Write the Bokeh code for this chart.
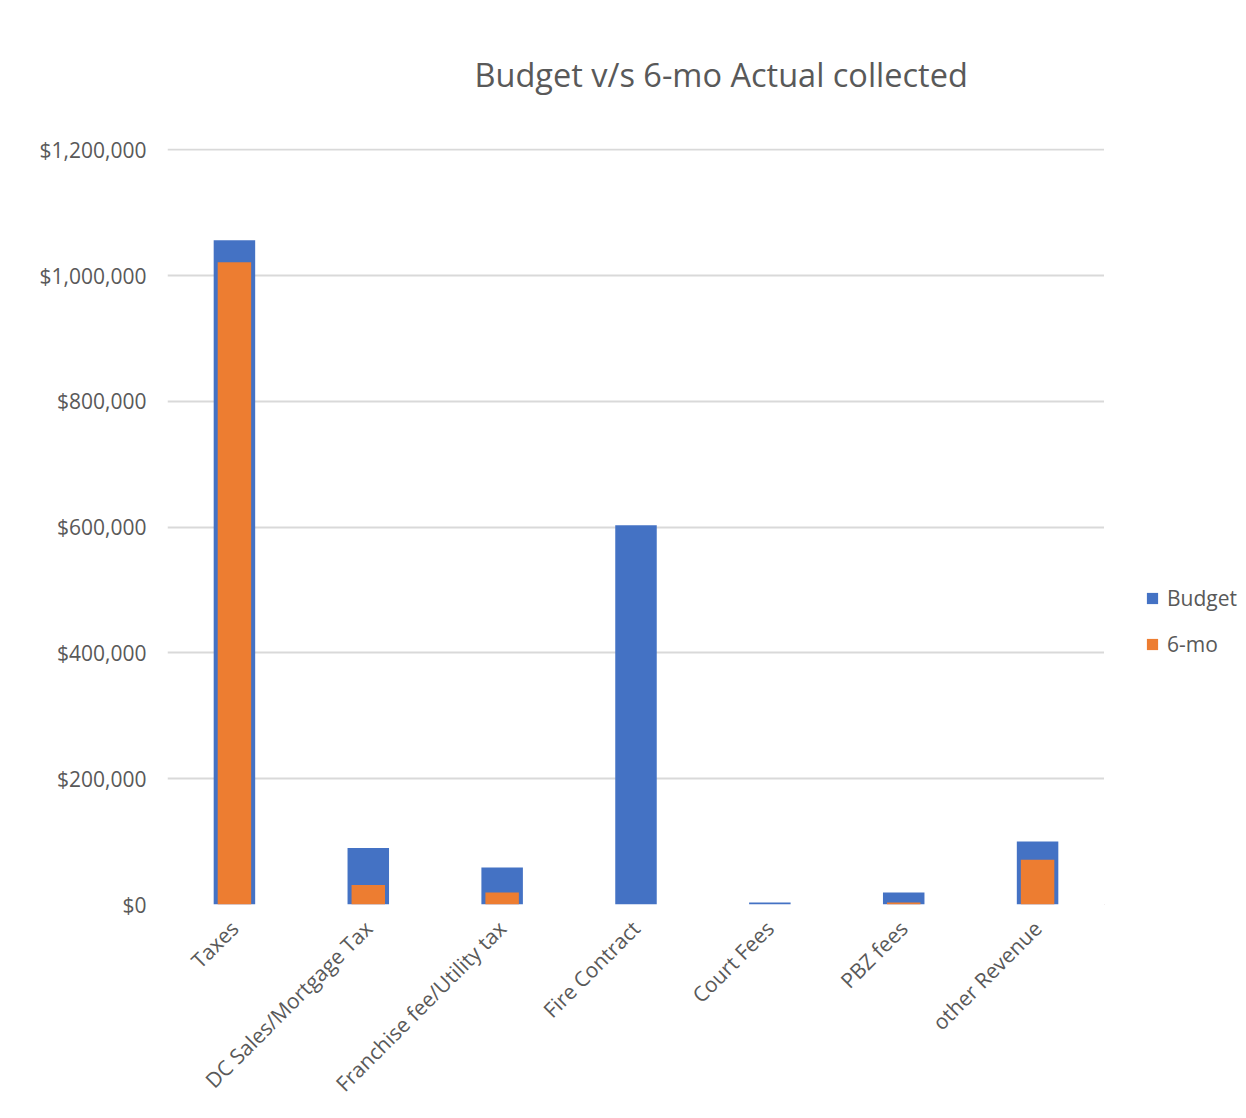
from bokeh.plotting import figure
from bokeh.models import (Range1d, FactorRange, NumeralTickFormatter, Legend, LegendItem, FixedTicker,
                          ColumnDataSource, Title)
from bokeh.layouts import row
from bokeh.embed import file_html
from bokeh.resources import INLINE
import math

categories = ["Taxes", "DC Sales/Mortgage Tax", "Franchise fee/Utility tax", "Fire Contract",
              "Court Fees", "PBZ fees", "other Revenue"]
budget = [1056000, 90000, 59000, 603000, 3000, 19000, 100000]
six_mo = [1021000, 31000, 19000, 0, 0, 3000, 71000]
y_ticks = [0, 200000, 400000, 600000, 800000, 1000000, 1200000]
series_names = ["Budget", "6-mo"]
series_colors = ["#4472C4", "#ED7D31"]

FONT = "Open Sans"
GREY = "#595959"
H = 1110

src = ColumnDataSource(dict(cat=categories, budget=budget, six=six_mo))

p = figure(width=1104, height=H, x_range=FactorRange(*categories), y_range=Range1d(0, 1202000),
           output_backend="svg", toolbar_location=None,
           min_border_left=167, min_border_right=0, min_border_top=148, min_border_bottom=H - 904)

p.title.text = "Budget v/s 6-mo Actual collected"
p.title.text_font = FONT
p.title.text_font_size = "32.5px"
p.title.text_font_style = "normal"
p.title.text_color = GREY
p.title.align = "left"
p.title.offset = 307
spacer = Title(text=" ", text_font_size="31px")
p.add_layout(spacer, "above")

p.vbar(x="cat", top="budget", width=0.31, source=src, fill_color=series_colors[0], line_color=None)
p.vbar(x="cat", top="six", width=0.25, source=src, fill_color=series_colors[1], line_color=None)

p.outline_line_color = None
p.xgrid.grid_line_color = None
p.ygrid.grid_line_color = "#d9d9d9"
p.ygrid.grid_line_width = 2

p.yaxis.ticker = FixedTicker(ticks=y_ticks)
p.yaxis.formatter = NumeralTickFormatter(format="$0,0")
for ax in (p.xaxis[0], p.yaxis[0]):
    ax.axis_line_color = None
    ax.major_tick_line_color = None
    ax.minor_tick_line_color = None
    ax.major_tick_out = 0
    ax.major_tick_in = 0
    ax.major_label_text_font = FONT
    ax.major_label_text_color = GREY
    ax.major_label_text_font_size = "21px"
p.yaxis.major_label_standoff = 21
p.xaxis.major_label_orientation = math.pi / 4
p.xaxis.major_label_standoff = 20

# legend panel (swatch renderers sit outside the visible range)
lg = figure(width=134, height=H, x_range=Range1d(0, 1), y_range=Range1d(0, 1), output_backend="svg",
            toolbar_location=None, min_border=0, outline_line_color=None)
lg.axis.visible = False
lg.grid.visible = False
items = []
for name, col in zip(series_names, series_colors):
    dummy = ColumnDataSource(dict(x=[-5], top=[-5]))
    rr = lg.vbar(x="x", top="top", width=0.1, source=dummy, fill_color=col, line_color=None)
    items.append(LegendItem(label=name, renderers=[rr]))
legend = Legend(items=items, location=(41, H - 656 - 208), glyph_width=14, glyph_height=14, label_text_font=FONT,
                label_text_font_size="21px", label_text_color=GREY, spacing=18, label_height=24,
                border_line_color=None, background_fill_alpha=0, label_standoff=8, padding=0, margin=0)
lg.add_layout(legend, "center")

open("out.html", "w").write(file_html(row(p, lg), INLINE))
